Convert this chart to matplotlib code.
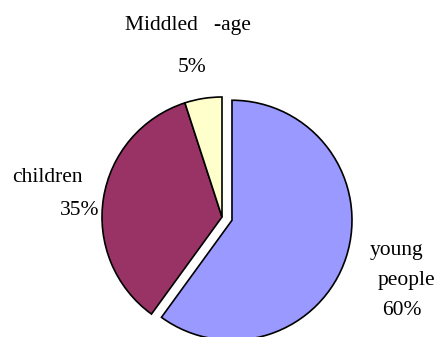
import matplotlib
matplotlib.use("Agg")
import matplotlib.pyplot as plt

categories = ["young people", "children", "Middled -age"]
values = [60, 35, 5]
colors = ["#9999FF", "#993366", "#FFFFCC"]

W, H = 438, 337
fig = plt.figure(figsize=(W / 100, H / 100), dpi=100)
ax = fig.add_axes([0, 0, 1, 1])

cx, cy, r = 222, H - 217, 120
explode = [10.5, 0, 0]  # pie offsets are in data units here
ax.pie(values, colors=colors, explode=explode, startangle=90, counterclock=False,
       center=(cx, cy), radius=r, frame=True,
       wedgeprops=dict(edgecolor="black", linewidth=1.2))
ax.set_xlim(0, W)
ax.set_ylim(0, H)
ax.set_aspect("equal")
ax.axis("off")

font = dict(family="Liberation Serif", fontsize=15.5, color="black", va="baseline", ha="left")

def t(x, y, s):
    ax.text(x, H - y, s, **font)

t(125, 30, "Middled   -age")
t(178, 72, f"{values[2]}%")
t(12, 182, "children")
t(60, 215, f"{values[1]}%")
t(370, 255, "young")
t(378, 285, "people")
t(382, 315, f"{values[0]}%")

fig.savefig("out.png", dpi=100)
